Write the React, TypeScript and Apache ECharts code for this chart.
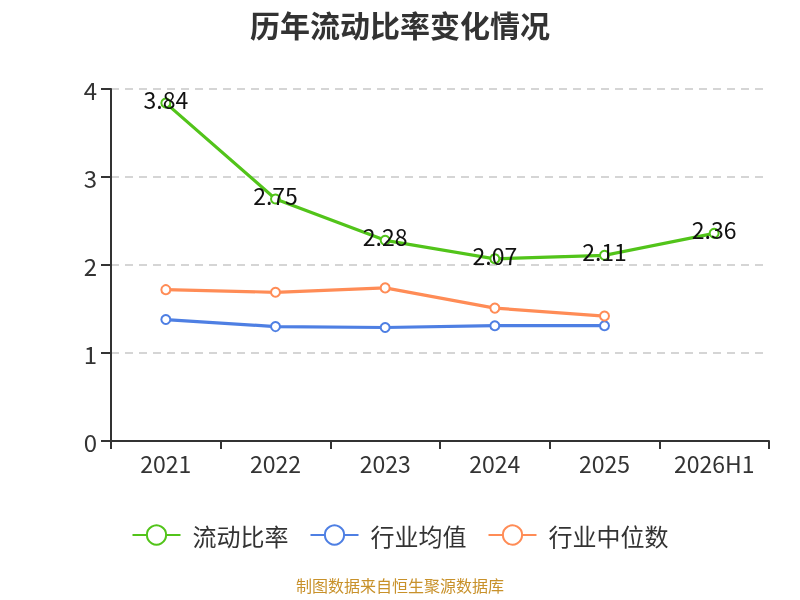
import React, { useEffect, useRef } from "react";
import * as echarts from "echarts";

const categories = ["2021", "2022", "2023", "2024", "2025", "2026H1"];
const currentRatio = [3.84, 2.75, 2.28, 2.07, 2.11, 2.36];
const industryAvg = [1.38, 1.3, 1.29, 1.31, 1.31, null];
const industryMedian = [1.72, 1.69, 1.74, 1.51, 1.42, null];
const seriesNames = ["流动比率", "行业均值", "行业中位数"];
const titleText = "历年流动比率变化情况";
const sourceText = "制图数据来自恒生聚源数据库";

const FONT = "'Noto Sans CJK SC', 'Noto Sans', sans-serif";

export default function App() {
  const ref = useRef<HTMLDivElement>(null);
  useEffect(() => {
    if (!ref.current) return;
    const chart = echarts.init(ref.current, undefined, { renderer: "svg" });
    chart.setOption({
      animation: false,
      textStyle: { fontFamily: FONT },
      title: {
        text: titleText,
        left: "center",
        top: 4,
        textStyle: { fontSize: 30, fontWeight: "bold", color: "#333", fontFamily: FONT },
      },
      legend: {
        data: seriesNames,
        top: 518,
        left: "center",
        itemWidth: 48,
        itemHeight: 24,
        itemGap: 21,
        textStyle: { fontSize: 24, color: "#333", fontFamily: FONT, padding: [0, 0, 0, 7] },
      },
      graphic: [
        {
          type: "text",
          left: "center",
          top: 577,
          style: { text: sourceText, fontSize: 16, fill: "#c8912a", fontFamily: FONT },
        },
      ],
      grid: { left: 111, right: 31, top: 89, bottom: 159 },
      xAxis: {
        type: "category",
        data: categories,
        boundaryGap: true,
        axisLine: { lineStyle: { color: "#333", width: 2 } },
        axisTick: { show: true, length: 8, lineStyle: { color: "#333", width: 2 } },
        axisLabel: { fontSize: 23, color: "#333", margin: 10, fontFamily: FONT },
      },
      yAxis: {
        type: "value",
        min: 0,
        max: 4,
        interval: 1,
        axisLine: { show: true, lineStyle: { color: "#333", width: 2 } },
        axisTick: { show: true, length: 10, lineStyle: { color: "#333", width: 2 } },
        axisLabel: { fontSize: 24, color: "#333", margin: 14, fontFamily: FONT },
        splitLine: { lineStyle: { color: "#c8c8c8", type: [8, 6], width: 1.5 } },
      },
      series: [
        {
          name: seriesNames[0],
          type: "line",
          data: currentRatio,
          color: "#52c41a",
          symbol: "emptyCircle",
          symbolSize: 9,
          lineStyle: { width: 3.2 },
          label: {
            show: true,
            position: "inside",
            offset: [0, -4],
            fontSize: 23,
            color: "#111",
            fontFamily: FONT,
          },
        },
        {
          name: seriesNames[1],
          type: "line",
          data: industryAvg,
          color: "#4e7fe3",
          symbol: "emptyCircle",
          symbolSize: 9,
          lineStyle: { width: 3.2 },
        },
        {
          name: seriesNames[2],
          type: "line",
          data: industryMedian,
          color: "#ff8c56",
          symbol: "emptyCircle",
          symbolSize: 9,
          lineStyle: { width: 3.2 },
        },
      ],
    });
    return () => chart.dispose();
  }, []);
  return (
    <div
      ref={ref}
      style={{ position: "fixed", left: 0, top: 0, width: 800, height: 600 }}
    />
  );
}
